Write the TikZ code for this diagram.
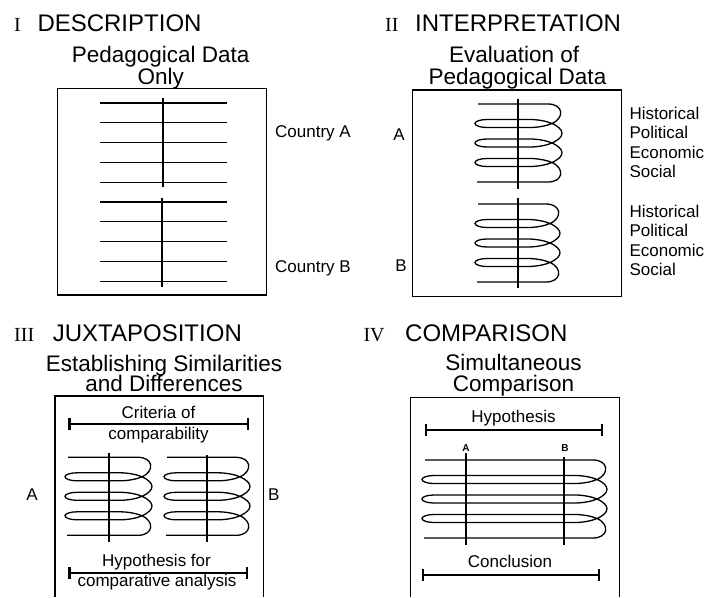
\documentclass[tikz,border=0pt]{standalone}
\usepackage{fontspec}
\setmainfont{Liberation Sans}
\newfontfamily\numfont{Liberation Serif}
\usetikzlibrary{arrows.meta}

% coil: left x, top y, width
\newcommand{\drawcoil}[3]{%
  \draw[coilline] ({#1+3},#2) -- ({#1+#3-14},#2)
    .. controls ({#1+#3+1},#2) and ({#1+#3+3.3},{#2+13.5}) .. ({#1+#3-10},{#2+19.5})
    \foreach \i in {1,2,3}{
      .. controls ({#1+#3-15},{#2+19.5*\i+2.25}) and ({#1+#3-24},{#2+19.5*\i+4}) .. ({#1+#3-32},{#2+19.5*\i+4})
      -- ({#1+12},{#2+19.5*\i+4})
      arc[start angle=90, end angle=270, x radius=12, y radius=4]
      -- ({#1+#3-32},{#2+19.5*\i-4})
      .. controls ({#1+#3-24},{#2+19.5*\i-4}) and ({#1+#3-15},{#2+19.5*\i-2.25}) .. ({#1+#3-10},{#2+19.5*\i})
      .. controls ({#1+#3+3.3},{#2+19.5*\i+6}) and ({#1+#3+3.3-2.3*(\i==3)},{#2+19.5*(\i+1)-6*(\i<3)}) .. ({#1+#3-10-4*(\i==3)},{#2+19.5*(\i+1)})
    }
    -- ({#1+2},{#2+78});
}

\begin{document}
\begin{tikzpicture}[x=1pt,y=-1pt,
  title/.style={font=\fontsize{24}{24}\selectfont, inner sep=0pt, anchor=base west},
  num/.style={font=\numfont\fontsize{20}{20}\selectfont, inner sep=0pt, anchor=base west},
  sub/.style={font=\fontsize{22.5}{22.5}\selectfont, inner sep=0pt, anchor=base},
  lbl/.style={font=\fontsize{17}{17}\selectfont, inner sep=0pt, anchor=base},
  tiny/.style={font=\bfseries\fontsize{10}{10}\selectfont, inner sep=0pt, anchor=base},
  frame/.style={line width=1.2pt},
  hline/.style={line width=1.3pt},
  axis/.style={line width=2pt},
  coilline/.style={line width=1.3pt},
  bar/.style={line width=2.2pt, {Bar[width=12pt]}-{Bar[width=12pt]}}]
\useasboundingbox (0,0) rectangle (712,597);

% I description
\node[num] (numI) at (14,31.7) {I};
\node[title] (titI) at (37.3,31.7) {DESCRIPTION};
\node[sub] (subIa) at (160.7,62.7) {Pedagogical Data};
\node[sub] (subIb) at (160.8,84) {Only};
\draw[frame] (57.3,88.3) rectangle (266.7,295);
\foreach \k in {0,...,9}
  \draw[hline] (100,{103+19.8*\k}) -- (227,{103+19.8*\k});
\draw[axis] (163,98) -- (163,187);
\draw[axis] (162,198) -- (162,287);
\node[lbl,anchor=base west] (cA) at (275,137.7) {Country A};
\node[lbl,anchor=base west] (cB) at (275,272.7) {Country B};

% II interpretation
\node[num] (numII) at (385,31.7) {II};
\node[title] (titII) at (415,31.7) {INTERPRETATION};
\node[sub] (subIIa) at (514.2,62.7) {Evaluation of};
\node[sub] (subIIb) at (517.5,84) {Pedagogical Data};
\draw[frame] (412.7,90) rectangle (621.7,296.7);
\drawcoil{475}{104}{87}
\drawcoil{475}{204}{85}
\draw[axis] (518,99) -- (518,189);
\draw[axis] (518.3,198) -- (518.3,288);
\node[lbl] (iiA) at (399,140) {A};
\node[lbl] (iiB) at (401,271.7) {B};
\foreach \t [count=\k from 0] in {Historical,Political,Economic,Social}{
  \node[lbl,anchor=base west] (fa\k) at (629.3,{119.3+19.5*\k}) {\t};
  \node[lbl,anchor=base west] (fb\k) at (629.3,{217.3+19.5*\k}) {\t};
}

% III juxtaposition
\node[num] (numIII) at (14,341.7) {III};
\node[title] (titIII) at (52.7,341.7) {JUXTAPOSITION};
\node[sub] (subIIIa) at (164,371) {Establishing Similarities};
\node[sub] (subIIIb) at (164,391.7) {and Differences};
\draw[frame] (55,597) -- (55,396) -- (263.3,396) -- (263.3,597);
\node[lbl] (crit) at (158.5,418.3) {Criteria of};
\coordinate (critL) at (68.3,424.3);
\coordinate (critR) at (249.3,424.3);
\draw[bar] (critL) -- (critR);
\node[lbl] (comp) at (158.5,439.5) {comparability};
\drawcoil{65}{457.3}{87}
\drawcoil{164}{457.3}{86}
\draw[axis] (109.3,453) -- (109.3,541.7);
\draw[axis] (206.7,455) -- (206.7,541.7);
\node[lbl] (iiiA) at (32,500) {A};
\node[lbl] (iiiB) at (273.8,500) {B};
\node[lbl] (hypf) at (156.5,566) {Hypothesis for};
\coordinate (hypfL) at (68.3,572.7);
\coordinate (hypfR) at (248.3,572.7);
\draw[bar] (hypfL) -- (hypfR);
\node[lbl] (compan) at (157,586.7) {comparative analysis};

% IV comparison
\node[num] (numIV) at (363.3,341.7) {IV};
\node[title] (titIV) at (405,341.7) {COMPARISON};
\node[sub] (subIVa) at (513.5,370.8) {Simultaneous};
\node[sub] (subIVb) at (513.5,391.7) {Comparison};
\draw[frame] (410.7,597) -- (410.7,397.3) -- (619.3,397.3) -- (619.3,597);
\node[lbl] (hyp) at (513.5,422.7) {Hypothesis};
\coordinate (hypL) at (425,430);
\coordinate (hypR) at (603.3,430);
\draw[bar] (hypL) -- (hypR);
\drawcoil{422}{460}{185}
\node[tiny] (ivA) at (466,451) {A};
\node[tiny] (ivB) at (565,451) {B};
\draw[axis] (466,453) -- (466,545);
\draw[axis] (564.3,457) -- (564.3,545);
\node[lbl] (concl) at (510,567.7) {Conclusion};
\coordinate (conL) at (421.7,575);
\coordinate (conR) at (600,575);
\draw[bar] (conL) -- (conR);
\end{tikzpicture}
\end{document}
